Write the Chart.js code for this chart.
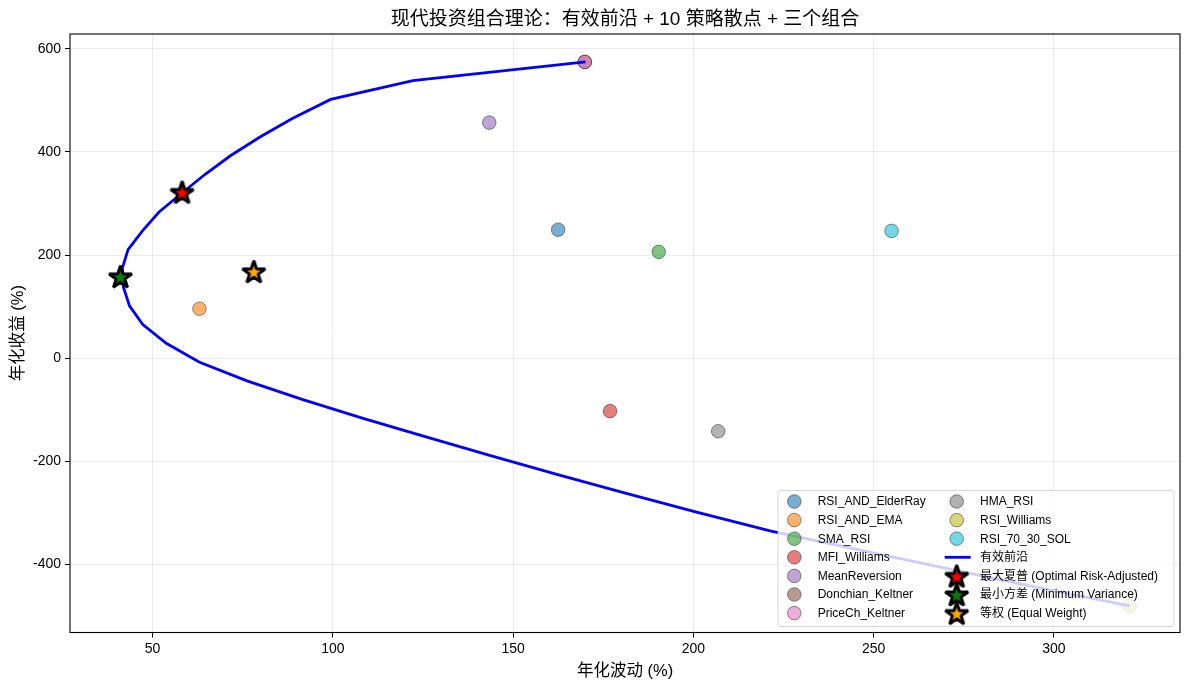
<!DOCTYPE html>
<html>
<head>
<meta charset="utf-8">
<script src="https://cdn.jsdelivr.net/npm/chart.js@4.4.0/dist/chart.umd.min.js"></script>
<style>
  html, body { margin: 0; padding: 0; background: #fff; }
  #wrap { width: 1189px; height: 690px; }
</style>
</head>
<body>
<div id="wrap"><canvas id="c" width="1189" height="690"></canvas></div>
<script>
// ---------------- DATA ----------------
const strategies = ['RSI_AND_ElderRay', 'RSI_AND_EMA', 'SMA_RSI', 'MFI_Williams', 'MeanReversion',
  'Donchian_Keltner', 'PriceCh_Keltner', 'HMA_RSI', 'RSI_Williams', 'RSI_70_30_SOL'];
const stratVol = [162.5, 63.0, 190.4, 176.9, 143.4, 169.9, 169.9, 206.9, 321.0, 255.0];
const stratRet = [249.2, 95.8, 206.2, -102.9, 457.0, 574.8, 574.8, -141.9, -481.0, 246.9];
const stratColors = ['#1f77b4', '#ff7f0e', '#2ca02c', '#d62728', '#9467bd',
  '#8c564b', '#e377c2', '#7f7f7f', '#bcbd22', '#17becf'];

const frontierLabel = '有效前沿';
const frontierVol = [170.1, 122.2, 99.4, 88.9, 79.8, 71.6, 64.5, 58.1, 51.8, 47.2,
  43.2, 41.6, 41.9, 43.6, 47.3, 53.8, 62.9, 76.2, 91.7, 108.4,
  126.1, 144.0, 162.4, 181.4, 200.9, 221.3, 245.6, 270.2, 295.0, 321.0];
const frontierRet = [574.8, 538.4, 502.0, 465.6, 429.2, 392.7, 356.3, 319.9, 283.5, 247.1,
  210.7, 174.3, 137.9, 101.5, 65.1, 28.7, -7.7, -44.1, -80.5, -116.9,
  -153.4, -189.8, -226.2, -262.6, -299.0, -335.4, -371.8, -408.2, -444.6, -481.0];

const portfolioNames = ['最大夏普 (Optimal Risk-Adjusted)', '最小方差 (Minimum Variance)', '等权 (Equal Weight)'];
const portfolioVol = [58.2, 41.1, 78.1];
const portfolioRet = [322.3, 158.6, 168.3];
const portfolioColors = ['#ff0000', '#008000', '#ffa500'];

const xTicks = [50, 100, 150, 200, 250, 300];
const yTicks = [-400, -200, 0, 200, 400, 600];

const titleText = '现代投资组合理论：有效前沿 + 10 策略散点 + 三个组合';
const xTitle = '年化波动 (%)';
const yTitle = '年化收益 (%)';

// ---------------- STYLE HELPERS ----------------
const FAM = "'Liberation Sans', 'Noto Sans CJK SC', sans-serif";
function rgba(hex, a) {
  const n = parseInt(hex.slice(1), 16);
  return `rgba(${(n >> 16) & 255},${(n >> 8) & 255},${n & 255},${a})`;
}
function starPath(g, cx, cy, R) {
  const r = R * 0.381966;
  g.beginPath();
  for (let i = 0; i < 10; i++) {
    const ang = -Math.PI / 2 + i * Math.PI / 5;
    const rr = (i % 2) ? r : R;
    g.lineTo(cx + rr * Math.cos(ang), cy + rr * Math.sin(ang));
  }
  g.closePath();
}
const STAR_R = 12, STAR_LW = 3;
function makeStar(fill) {
  const size = Math.ceil(2 * STAR_R + STAR_LW + 6);
  const c = document.createElement('canvas');
  c.width = size; c.height = size;
  const g = c.getContext('2d');
  starPath(g, size / 2, size / 2 + 1.2, STAR_R);
  g.fillStyle = fill; g.fill();
  g.lineJoin = 'bevel'; g.lineWidth = STAR_LW; g.strokeStyle = '#000'; g.stroke();
  return c;
}
const starImgs = portfolioColors.map(makeStar);

// ---------------- DATASETS ----------------
const datasets = [];
strategies.forEach((name, i) => {
  datasets.push({
    label: name,
    data: [{ x: stratVol[i], y: stratRet[i] }],
    backgroundColor: rgba(stratColors[i], 0.6),
    borderColor: 'rgba(0,0,0,0.6)',
    borderWidth: 0.7,
    pointRadius: 6.8,
    pointHoverRadius: 6.8,
    order: 100 - i
  });
});
datasets.push({
  label: frontierLabel,
  data: frontierVol.map((v, i) => ({ x: v, y: frontierRet[i] })),
  showLine: true,
  borderColor: '#0000ff',
  borderWidth: 2.8,
  pointRadius: 0,
  tension: 0,
  fill: false,
  order: 10
});
portfolioNames.forEach((name, i) => {
  datasets.push({
    label: name,
    data: [{ x: portfolioVol[i], y: portfolioRet[i] }],
    pointStyle: starImgs[i],
    pointRadius: 12,
    pointHoverRadius: 12,
    order: 3 - i
  });
});

// ---------------- PLUGIN: title, spines, legend ----------------
const decor = {
  id: 'decor',
  afterDraw(chart) {
    const ctx = chart.ctx;
    const a = chart.chartArea;
    ctx.save();
    // spines
    ctx.strokeStyle = '#000';
    ctx.lineWidth = 1.1;
    ctx.strokeRect(a.left, a.top, a.right - a.left, a.bottom - a.top);
    // title
    ctx.fillStyle = '#000';
    ctx.font = '19px ' + FAM;
    ctx.textAlign = 'center';
    ctx.textBaseline = 'middle';
    ctx.fillText(titleText, (a.left + a.right) / 2, 20);

    // legend (anchored to lower-right of the plot area)
    const L = { w: 396, h: 136, r: 3 };
    L.x = a.right - 6 - L.w;
    L.y = a.bottom - 6 - L.h;
    ctx.beginPath();
    ctx.roundRect(L.x, L.y, L.w, L.h, L.r);
    ctx.fillStyle = 'rgba(255,255,255,0.8)';
    ctx.fill();
    ctx.strokeStyle = 'rgba(204,204,204,0.8)';
    ctx.lineWidth = 1;
    ctx.stroke();

    const items = [];
    strategies.forEach((n, i) => items.push({ kind: 'dot', label: n, color: stratColors[i] }));
    items.push({ kind: 'line', label: frontierLabel, color: '#0000ff' });
    portfolioNames.forEach((n, i) => items.push({ kind: 'star', label: n, img: starImgs[i] }));

    const rowY0 = L.y + 11, rowH = 18.6;
    const cols = [{ mx: L.x + 16.3, tx: L.x + 39.7 }, { mx: L.x + 178.7, tx: L.x + 202 }];
    ctx.font = '12px ' + FAM;
    ctx.textAlign = 'left';
    ctx.textBaseline = 'middle';
    items.forEach((it, k) => {
      const col = cols[k < 7 ? 0 : 1];
      const y = rowY0 + (k % 7) * rowH;
      if (it.kind === 'dot') {
        ctx.beginPath();
        ctx.arc(col.mx, y, 6.8, 0, Math.PI * 2);
        ctx.fillStyle = rgba(it.color, 0.6);
        ctx.fill();
        ctx.strokeStyle = 'rgba(0,0,0,0.6)';
        ctx.lineWidth = 0.7;
        ctx.stroke();
      } else if (it.kind === 'line') {
        ctx.beginPath();
        ctx.moveTo(col.mx - 12, y);
        ctx.lineTo(col.mx + 14, y);
        ctx.strokeStyle = it.color;
        ctx.lineWidth = 2.8;
        ctx.stroke();
      } else {
        ctx.drawImage(it.img, col.mx - it.img.width / 2, y - it.img.height / 2);
      }
      ctx.fillStyle = '#000';
      ctx.fillText(it.label, col.tx, y + 0.5);
    });
    ctx.restore();
  }
};

// ---------------- CHART ----------------
const gridCfg = {
  color: 'rgba(176,176,176,0.3)',
  lineWidth: 0.8,
  tickColor: '#000',
  tickWidth: 1,
  tickLength: 5,
  drawTicks: true
};
new Chart(document.getElementById('c'), {
  type: 'scatter',
  data: { datasets },
  options: {
    responsive: false,
    animation: false,
    events: [],
    layout: { autoPadding: false, padding: { top: 34, right: 9, left: 0, bottom: 0 } },
    plugins: { legend: { display: false }, tooltip: { enabled: false }, title: { display: false } },
    scales: {
      x: {
        type: 'linear',
        min: 27.1,
        max: 335.0,
        afterBuildTicks: s => { s.ticks = xTicks.map(v => ({ value: v })); },
        afterFit: s => { s.height = 57.5; s.paddingLeft = 0; s.paddingRight = 0; },
        grid: gridCfg,
        border: { display: false },
        ticks: { color: '#000', font: { size: 14, family: FAM }, padding: 3, maxRotation: 0 },
        title: { display: true, text: xTitle, color: '#000', font: { size: 16.5, family: FAM }, padding: { top: 0, bottom: 9 } }
      },
      y: {
        type: 'linear',
        min: -532.5,
        max: 629.0,
        afterBuildTicks: s => { s.ticks = yTicks.map(v => ({ value: v })); },
        afterFit: s => { s.width = 70; s.paddingTop = 0; s.paddingBottom = 0; },
        grid: gridCfg,
        border: { display: false },
        ticks: { color: '#000', font: { size: 14, family: FAM }, padding: 4 },
        title: { display: true, text: yTitle, color: '#000', font: { size: 16.5, family: FAM }, padding: { top: 9, bottom: 0 } }
      }
    }
  },
  plugins: [decor]
});
</script>
</body>
</html>
